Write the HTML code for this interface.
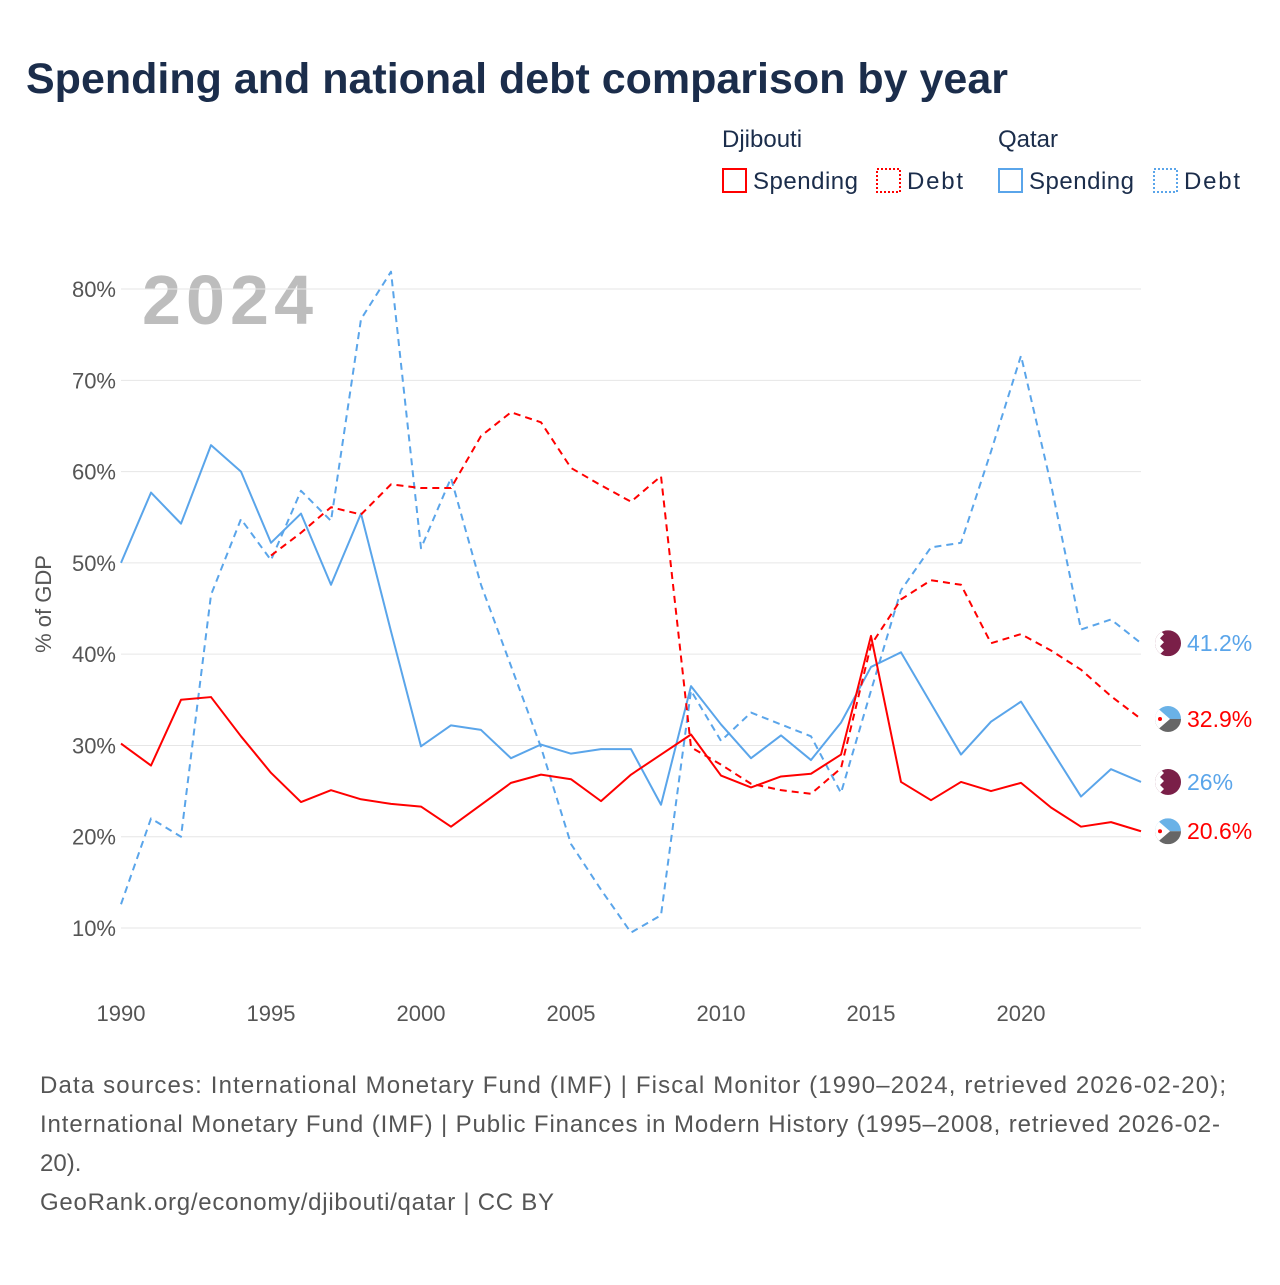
<!DOCTYPE html>
<html><head><meta charset="utf-8">
<style>
body{margin:0;width:1280px;height:1280px;background:#fff;font-family:"Liberation Sans",sans-serif;overflow:hidden}
svg text{font-family:"Liberation Sans",sans-serif}
</style></head>
<body>
<svg width="1280" height="1280" id="chart">
<defs><clipPath id="fc"><circle cx="0" cy="0" r="13"/></clipPath></defs>
<text x="26" y="93" font-size="43" font-weight="bold" fill="#1b2d4b">Spending and national debt comparison by year</text>
<g font-size="24" fill="#1b2d4b">
<text x="722" y="147">Djibouti</text>
<text x="998" y="147">Qatar</text>
<g><rect x="723" y="169" width="23" height="23" fill="none" stroke="#f00" stroke-width="2"/><text x="753" y="189" textLength="105">Spending</text></g>
<g><rect x="877" y="169" width="23" height="23" fill="none" stroke="#f00" stroke-width="2" stroke-dasharray="2,2"/><text x="907" y="189" textLength="56">Debt</text></g>
<g><rect x="999" y="169" width="23" height="23" fill="none" stroke="#5aa5ea" stroke-width="2"/><text x="1029" y="189" textLength="105">Spending</text></g>
<g><rect x="1154" y="169" width="23" height="23" fill="none" stroke="#5aa5ea" stroke-width="2" stroke-dasharray="2,2"/><text x="1184" y="189" textLength="56">Debt</text></g>
</g>
<text x="142" y="324" font-size="70" font-weight="bold" fill="#bdbdbd" textLength="171">2024</text>
<text transform="translate(51,604) rotate(-90)" text-anchor="middle" font-size="22" fill="#555">% of GDP</text>
<g id="grid"></g><g id="series"></g><g id="labels"></g>
<g font-size="24" fill="#555">
<text x="40" y="1093" textLength="1186">Data sources: International Monetary Fund (IMF) | Fiscal Monitor (1990–2024, retrieved 2026-02-20);</text>
<text x="40" y="1132" textLength="1180">International Monetary Fund (IMF) | Public Finances in Modern History (1995–2008, retrieved 2026-02-</text>
<text x="40" y="1171">20).</text>
<text x="40" y="1210" textLength="514">GeoRank.org/economy/djibouti/qatar | CC BY</text>
</g>
</svg>
<script>
const years=[];for(let y=1990;y<=2024;y++)years.push(y);
const yTicks=[10,20,30,40,50,60,70,80];
const xTicks=[1990,1995,2000,2005,2010,2015,2020];
const djSpending=[30.2,27.8,35,35.3,31,27,23.8,25.1,24.1,23.6,23.3,21.1,23.5,25.9,26.8,26.3,23.9,26.8,29,31.2,26.7,25.4,26.6,26.9,29,42,26,24,26,25,25.9,23.2,21.1,21.6,20.6];
const djDebt=[null,null,null,null,null,50.8,53.3,56.1,55.3,58.6,58.2,58.2,63.9,66.5,65.4,60.4,58.5,56.7,59.5,29.8,27.9,25.8,25.1,24.7,27.5,41,46,48.1,47.6,41.2,42.2,40.4,38.3,35.4,32.9];
const qaSpending=[50,57.7,54.3,62.9,60,52.2,55.4,47.6,55.4,42.5,29.9,32.2,31.7,28.6,30.1,29.1,29.6,29.6,23.5,36.5,32.3,28.6,31.1,28.4,32.5,38.6,40.2,34.6,29,32.6,34.8,29.6,24.4,27.4,26];
const qaDebt=[12.6,22,20,46.5,54.8,50.3,57.9,54.6,76.7,81.9,51.6,59.3,47.6,38.7,29.8,19.2,14.2,9.5,11.4,36,30.5,33.6,32.3,31,24.8,36,47,51.7,52.2,62.2,72.7,58.6,42.7,43.8,41.2];
const X=y=>121+(y-1990)*30;
const Y=v=>928-(v-10)*9.128;
const NS="http://www.w3.org/2000/svg";
function mk(t,a,p){const e=document.createElementNS(NS,t);for(const k in a)e.setAttribute(k,a[k]);p.appendChild(e);return e;}
const grid=document.getElementById('grid');
yTicks.forEach(v=>{
 const l=mk('line',{x1:121,x2:1141,y1:Y(v),y2:Y(v),stroke:'#e6e6e6','stroke-width':1},grid);
 
 
 const t=mk('text',{x:116,y:Y(v)+8,'text-anchor':'end','font-size':22,fill:'#555'},grid);t.textContent=v+'%';
 
 
});
xTicks.forEach(v=>{
 const t=mk('text',{x:X(v),y:1021,'text-anchor':'middle','font-size':22,fill:'#555'},grid);t.textContent=v;
 
 
});
const ser=document.getElementById('series');
function line(vals,color,dash,name){
 let d='';vals.forEach((v,i)=>{if(v==null)return;d+=(d?'L':'M')+X(years[i])+','+Y(v);});
 const p=mk('path',{d:d,fill:'none',stroke:color,'stroke-width':2,'stroke-dasharray':dash||'none','stroke-linejoin':'round'},ser);
 
 
}
line(qaDebt,'#5aa5ea','7,5','line-qatar-debt');
line(qaSpending,'#5aa5ea','','line-qatar-spending');
line(djDebt,'#f00','7,5','line-djibouti-debt');
line(djSpending,'#f00','','line-djibouti-spending');
const lab=document.getElementById('labels');
function flag(cy,country){
 const g=mk('g',{transform:`translate(1168,${cy})`,'clip-path':'url(#fc)'},lab);
 
 
 if(country==='qatar'){
  mk('rect',{x:-13,y:-13,width:26,height:26,fill:'#7a1f48'},g);
  mk('path',{d:'M-13,-13 L-8,-13 L-4,-9 L-8,-5 L-4,-1 L-8,3 L-4,7 L-8,11 L-4,13 L-13,13Z',fill:'#fff'},g);
 }else{
  mk('rect',{x:-13,y:-13,width:26,height:13,fill:'#6ab2e7'},g);
  mk('rect',{x:-13,y:0,width:26,height:13,fill:'#666'},g);
  mk('path',{d:'M-13,-13 L2,0 L-13,13Z',fill:'#fff'},g);
  mk('circle',{cx:-8,cy:0,r:2,fill:'#f00'},g);
 }
}
function endLabel(v,color,country,name){
 flag(Y(v),country);
 const t=mk('text',{x:1187,y:Y(v)+8,'font-size':23,fill:color},lab);t.textContent=(Math.round(v*10)/10)+'%';
 
 
}
endLabel(qaDebt[34],'#5aa5ea','qatar','end-label-qatar-debt');
endLabel(djDebt[34],'#f00','djibouti','end-label-djibouti-debt');
endLabel(qaSpending[34],'#5aa5ea','qatar','end-label-qatar-spending');
endLabel(djSpending[34],'#f00','djibouti','end-label-djibouti-spending');
</script>
</body></html>
